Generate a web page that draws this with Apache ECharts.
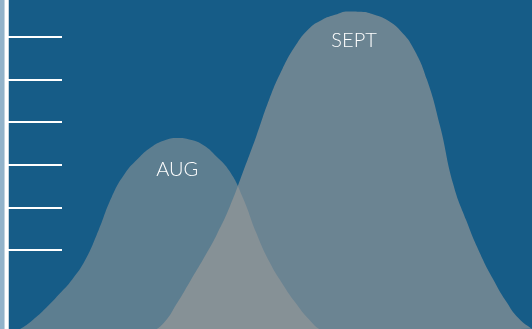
<!DOCTYPE html>
<html>
<head>
<meta charset="utf-8">
<script src="https://cdn.jsdelivr.net/npm/echarts@6/dist/echarts.min.js"></script>
<style>
  html, body { margin: 0; padding: 0; background: #165c87; }
  #chart { width: 532px; height: 329px; }
</style>
</head>
<body>
<div id="chart"></div>
<script>
// Month names shown on each curve
const months = ['AUG', 'SEPT'];

// Positions sampled along the horizontal scale (step 2.5)
const augX = [0, 2.5, 5, 7.5, 10, 12.5, 15, 17.5, 20, 22.5, 25, 27.5, 30,
  32.5, 35, 37.5, 40, 42.5, 45, 47.5, 50, 52.5, 55, 57.5, 60, 62.5];
const augLevel = [0.0, 0.14, 0.36, 0.64, 0.96, 1.31, 1.77, 2.46, 3.24, 3.79, 4.14, 4.41, 4.57,
  4.63, 4.59, 4.46, 4.19, 3.84, 3.22, 2.41, 1.73, 1.21, 0.76, 0.38, 0.11, 0.02];

const septX = [25, 27.5, 30, 32.5, 35, 37.5, 40, 42.5, 45, 47.5, 50, 52.5, 55,
  57.5, 60, 62.5, 65, 67.5, 70, 72.5, 75, 77.5, 80, 82.5, 85, 87.5, 90, 92.5,
  95, 97.5, 100];
const septLevel = [0.0, 0.08, 0.30, 0.76, 1.28, 1.80, 2.36, 3.02, 3.83, 4.66, 5.54, 6.25, 6.80,
  7.19, 7.40, 7.52, 7.60, 7.59, 7.52, 7.39, 7.14, 6.72, 6.00, 4.91, 3.55, 2.69, 1.95, 1.34,
  0.81, 0.39, 0.15];

// Levels marked on the vertical scale
const scaleTicks = [2, 3, 4, 5, 6, 7];

const labelFont = { color: '#ffffff', fontFamily: 'Lato', fontWeight: 300, fontSize: 20 };

// Pair positions with levels and put the month name under the highest point
function curveData(xs, ys, name, gap, shift) {
  let top = 0;
  ys.forEach((v, i) => { if (v > ys[top]) top = i; });
  return xs.map((x, i) => {
    const item = { value: [x, ys[i]] };
    if (i === top) {
      item.label = Object.assign({
        show: true, position: 'bottom', distance: gap, offset: [shift, 0], formatter: name
      }, labelFont);
    }
    return item;
  });
}

const chart = echarts.init(document.getElementById('chart'), null, { renderer: 'canvas' });

chart.setOption({
  animation: false,
  backgroundColor: '#165c87',
  graphic: [{
    type: 'rect',
    left: 0, top: 0,
    shape: { width: 4, height: 329 },
    style: { fill: '#92b3ca' },
    z: 0
  }],
  grid: { left: 6.5, right: 0, top: 0, bottom: 0 },
  xAxis: { type: 'value', min: 0, max: 100, show: false },
  yAxis: {
    type: 'value', min: 0.146, max: 7.868,
    axisLine: { show: true, lineStyle: { color: '#ffffff', width: 4.5 } },
    axisTick: {
      show: true, inside: true, length: 55.5,
      customValues: scaleTicks,
      lineStyle: { color: '#ffffff', width: 2 }
    },
    axisLabel: { show: false },
    splitLine: { show: false }
  },
  series: [
    {
      name: months[0], type: 'line', smooth: 0.5,
      symbol: 'circle', symbolSize: 0, showSymbol: true,
      lineStyle: { width: 0 },
      areaStyle: { color: 'rgba(159,157,154,0.52)', opacity: 1 },
      data: curveData(augX, augLevel, months[0], 22, 0),
      z: 3
    },
    {
      name: months[1], type: 'line', smooth: 0.5,
      symbol: 'circle', symbolSize: 0, showSymbol: true,
      lineStyle: { width: 0 },
      areaStyle: { color: 'rgba(159,157,154,0.62)', opacity: 1 },
      data: curveData(septX, septLevel, months[1], 19, 6),
      z: 4
    }
  ]
});
</script>
</body>
</html>
